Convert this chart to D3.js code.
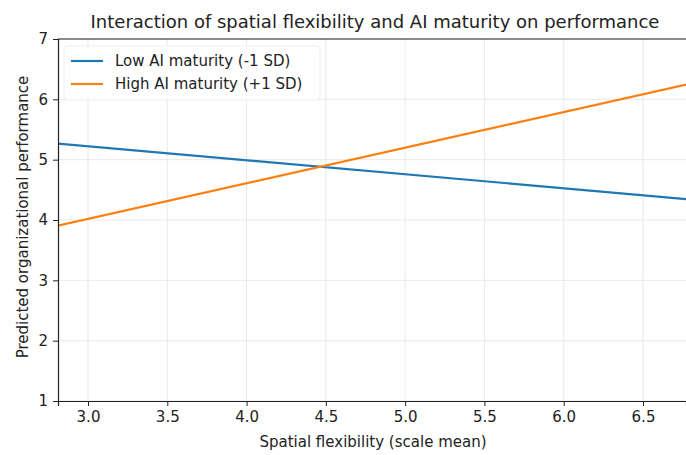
<!DOCTYPE html>
<html>
<head>
<meta charset="utf-8">
<script src="https://cdn.jsdelivr.net/npm/d3@7"></script>
<style>
  body { margin: 0; background: #fff; }
  text { font-family: "DejaVu Sans", sans-serif; fill: #222; }
</style>
</head>
<body>
<div id="chart"></div>
<script>
// spatial flexibility endpoints and predicted performance for each moderator level
var spatialFlex = [2.8, 6.8];
var lowAI = [5.27, 4.34];
var highAI = [3.90, 6.26];
var seriesNames = ["Low AI maturity (-1 SD)", "High AI maturity (+1 SD)"];
var seriesColors = ["#1f77b4", "#ff7f0e"];
var xTicks = [3.0, 3.5, 4.0, 4.5, 5.0, 5.5, 6.0, 6.5];
var yTicks = [1, 2, 3, 4, 5, 6, 7];

var svgWidth = 686;
var svgHeight = 455;

var margin = { top: 39, right: 0, bottom: 54, left: 58 };
var width = svgWidth - margin.left - margin.right;
var height = svgHeight - margin.top - margin.bottom;

var svg = d3.select("#chart")
    .append("svg")
    .attr("width", svgWidth)
    .attr("height", svgHeight);

var chartGroup = svg.append("g")
    .attr("transform", `translate(${margin.left}, ${margin.top})`);

// 3.0 sits at 30px, 6.5 at 585px
var pxPerUnit = (585 - 30) / 3.5;
var xScale = d3.scaleLinear()
    .domain([3.0 - 30 / pxPerUnit, 3.0 + (width - 30) / pxPerUnit])
    .range([0, width]);

var yScale = d3.scaleLinear()
    .domain([1, 7])
    .range([height, 0]);

svg.append("defs").append("clipPath")
    .attr("id", "plotclip")
    .append("rect")
    .attr("width", width)
    .attr("height", height);

// grid
chartGroup.append("g")
    .selectAll("line")
    .data(xTicks)
    .enter()
    .append("line")
    .attr("x1", d => xScale(d))
    .attr("x2", d => xScale(d))
    .attr("y1", 0)
    .attr("y2", height)
    .attr("stroke", "#e3e3e3")
    .attr("stroke-width", 0.8);

chartGroup.append("g")
    .selectAll("line")
    .data(yTicks)
    .enter()
    .append("line")
    .attr("x1", 0)
    .attr("x2", width)
    .attr("y1", d => yScale(d))
    .attr("y2", d => yScale(d))
    .attr("stroke", "#e3e3e3")
    .attr("stroke-width", 0.8);

var line = d3.line()
    .x(d => xScale(d[0]))
    .y(d => yScale(d[1]));

[lowAI, highAI].forEach(function(vals, i) {
    chartGroup.append("path")
        .datum(spatialFlex.map((x, j) => [x, vals[j]]))
        .attr("clip-path", "url(#plotclip)")
        .attr("fill", "none")
        .attr("stroke", seriesColors[i])
        .attr("stroke-width", 2.2)
        .attr("d", line);
});

// axes
var bottomAxis = d3.axisBottom(xScale)
    .tickValues(xTicks)
    .tickFormat(d3.format(".1f"))
    .tickSizeOuter(0)
    .tickSize(5)
    .tickPadding(5);
var leftAxis = d3.axisLeft(yScale)
    .tickValues(yTicks)
    .tickFormat(d3.format("d"))
    .tickSizeOuter(0)
    .tickSize(5)
    .tickPadding(5);

var xAxisG = chartGroup.append("g")
    .attr("transform", `translate(0, ${height})`)
    .call(bottomAxis);
var yAxisG = chartGroup.append("g")
    .call(leftAxis);

[xAxisG, yAxisG].forEach(function(g) {
    g.select(".domain").attr("stroke", "#222").attr("stroke-width", 1.2);
    g.selectAll(".tick line").attr("stroke", "#222").attr("stroke-width", 1);
    g.selectAll(".tick text")
        .style("font-family", "DejaVu Sans, sans-serif")
        .style("font-size", "15px")
        .attr("fill", "#222");
});

// top spine
chartGroup.append("line")
    .attr("x1", 0)
    .attr("x2", width)
    .attr("y1", 0)
    .attr("y2", 0)
    .attr("stroke", "#222")
    .attr("stroke-width", 1.2);

// legend
var legend = chartGroup.append("g")
    .attr("transform", "translate(6, 7)");
legend.append("rect")
    .attr("width", 256)
    .attr("height", 54)
    .attr("rx", 3)
    .attr("fill", "#fff")
    .attr("fill-opacity", 0.8)
    .attr("stroke", "#ededed");
seriesNames.forEach(function(name, i) {
    legend.append("line")
        .attr("x1", 7)
        .attr("x2", 39)
        .attr("y1", 15 + i * 23)
        .attr("y2", 15 + i * 23)
        .attr("stroke", seriesColors[i])
        .attr("stroke-width", 2.2);
    legend.append("text")
        .attr("x", 51)
        .attr("y", 20 + i * 23)
        .style("font-size", "15px")
        .text(name);
});

// titles
svg.append("text")
    .attr("x", 375)
    .attr("y", 28)
    .attr("text-anchor", "middle")
    .style("font-size", "18px")
    .text("Interaction of spatial flexibility and AI maturity on performance");

svg.append("text")
    .attr("x", 373)
    .attr("y", 447)
    .attr("text-anchor", "middle")
    .style("font-size", "15px")
    .text("Spatial flexibility (scale mean)");

svg.append("text")
    .attr("transform", "rotate(-90)")
    .attr("x", -217)
    .attr("y", 28)
    .attr("text-anchor", "middle")
    .style("font-size", "15px")
    .text("Predicted organizational performance");
</script>
</body>
</html>
